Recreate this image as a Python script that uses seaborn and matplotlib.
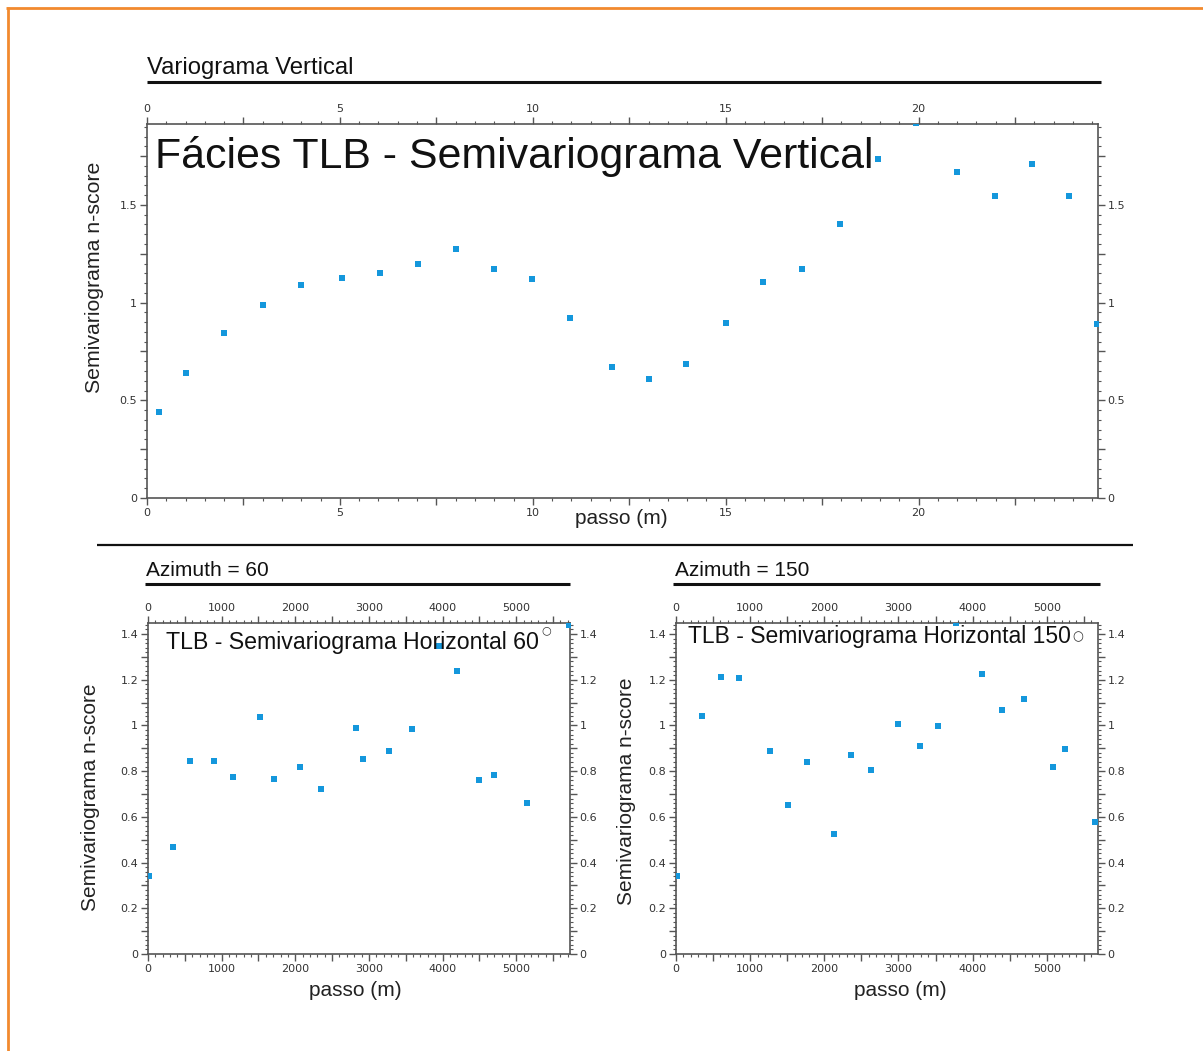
import numpy as np
import pandas as pd
import matplotlib
matplotlib.use("Agg")
import matplotlib.pyplot as plt
import seaborn as sns
from matplotlib.ticker import MultipleLocator, FuncFormatter
from matplotlib.lines import Line2D

# ---------------- data ----------------
vert_lag = [0.32, 1.0, 2.0, 3.0, 3.98, 5.05, 6.05, 7.02, 8.02, 9.0, 9.99, 10.96, 12.04,
            13.02, 13.98, 15.0, 15.97, 16.97, 17.96, 18.96, 19.93, 21.0, 21.97, 22.94,
            23.9, 24.62]
vert_gamma = [0.441, 0.642, 0.842, 0.986, 1.088, 1.125, 1.149, 1.196, 1.272, 1.174,
              1.120, 0.922, 0.672, 0.607, 0.686, 0.895, 1.105, 1.174, 1.401, 1.737,
              1.92, 1.667, 1.547, 1.711, 1.547, 0.890]

az60_lag = [15, 341, 569, 896, 1151, 1520, 1715, 2070, 2352, 2825, 2921, 3276, 3590,
            3945, 4199, 4495, 4695, 5150, 5720]
az60_gamma = [0.342, 0.469, 0.844, 0.844, 0.776, 1.036, 0.767, 0.818, 0.722, 0.990,
              0.855, 0.887, 0.985, 1.349, 1.236, 0.763, 0.785, 0.659, 1.44]

az150_lag = [15, 345, 602, 850, 1264, 1512, 1769, 2128, 2362, 2624, 2987, 3295, 3529,
             3778, 4127, 4393, 4697, 5087, 5239, 5650]
az150_gamma = [0.340, 1.039, 1.211, 1.206, 0.889, 0.650, 0.840, 0.527, 0.872, 0.804,
               1.007, 0.908, 0.999, 1.45, 1.225, 1.067, 1.116, 0.818, 0.898, 0.577]

header_vert = "Variograma Vertical"
header_60 = "Azimuth = 60"
header_150 = "Azimuth = 150"
title_vert = "Fácies TLB - Semivariograma Vertical"
title_60 = "TLB - Semivariograma Horizontal 60"
title_150 = "TLB - Semivariograma Horizontal 150"
xlabel_txt = "passo (m)"
ylabel_txt = "Semivariograma n-score"

# ---------------- style ----------------
sns.set_style("white")
plt.rcParams['font.family'] = ['Liberation Sans', 'DejaVu Sans']

W, H = 1203, 1051
fig = plt.figure(figsize=(W / 100, H / 100), dpi=100)
fig.patch.set_facecolor("white")

PT_COLOR = "#1497dc"


def px_rect(x0, y0, x1, y1):
    return [x0 / W, 1 - y1 / H, (x1 - x0) / W, (y1 - y0) / H]


def fx(x):
    return x / W


def fy(y):
    return 1 - y / H


def make_fmt(step):
    def f(v, p):
        r = v / step
        if abs(r - round(r)) < 1e-6:
            return f"{v:g}"
        return ""
    return FuncFormatter(f)


def style_axes(ax, xmaj, xmin, xlab, ymaj, ymin, ylab):
    ax.xaxis.set_major_locator(MultipleLocator(xmaj))
    ax.xaxis.set_minor_locator(MultipleLocator(xmin))
    ax.xaxis.set_major_formatter(make_fmt(xlab))
    ax.yaxis.set_major_locator(MultipleLocator(ymaj))
    ax.yaxis.set_minor_locator(MultipleLocator(ymin))
    ax.yaxis.set_major_formatter(make_fmt(ylab))
    ax.tick_params(which='both', direction='out', top=True, right=True, bottom=True, left=True,
                   labeltop=True, labelright=True, labelbottom=True, labelleft=True,
                   color='#555555', labelcolor='#333333', labelsize=8,
                   labelfontfamily='DejaVu Sans', pad=2)
    ax.tick_params(which='major', length=5, width=1)
    ax.tick_params(which='minor', length=2.5, width=0.8)
    for s in ax.spines.values():
        s.set_color('#555555')
        s.set_linewidth(1.2)
    ax.grid(False)


def scatter(ax, x, y):
    df = pd.DataFrame({"passo": x, "gamma": y})
    sns.scatterplot(data=df, x="passo", y="gamma", ax=ax, marker='s', s=21,
                    color=PT_COLOR, linewidth=0, clip_on=True, zorder=3)


# ---- top axes ----
ax1 = fig.add_axes(px_rect(147, 124, 1098, 498))
scatter(ax1, vert_lag, vert_gamma)
ax1.set_xlim(0, 24.65)
ax1.set_ylim(0, 1.914)
style_axes(ax1, 2.5, 0.5, 5, 0.25, 0.05, 0.5)
ax1.set_xlabel(xlabel_txt, fontsize=15, color='#222222')
ax1.set_ylabel(ylabel_txt, fontsize=15.3, color='#222222')
ax1.xaxis.set_label_coords((621 - 147) / 951, (498 - 519) / 374)
ax1.xaxis.label.set_va('center')
ax1.yaxis.set_label_coords((95 - 147) / 951, (498 - 277) / 374)
ax1.yaxis.label.set_va('center')
ax1.text(0.0084, 0.882, title_vert, transform=ax1.transAxes, fontsize=30.9,
         ha='left', va='baseline', color='#111111')

# ---- bottom-left ----
ax2 = fig.add_axes(px_rect(148, 623, 570, 954))
scatter(ax2, az60_lag, az60_gamma)
ax2.set_xlim(0, 5730)
ax2.set_ylim(0, 1.448)
style_axes(ax2, 500, 100, 1000, 0.1, 0.02, 0.2)
ax2.set_xlabel(xlabel_txt, fontsize=15, color='#222222')
ax2.set_ylabel(ylabel_txt, fontsize=15, color='#222222')
ax2.xaxis.set_label_coords((355 - 148) / 422, (954 - 990) / 331)
ax2.xaxis.label.set_va('center')
ax2.yaxis.set_label_coords((90 - 148) / 422, (954 - 797) / 331)
ax2.yaxis.label.set_va('center')
t60 = ax2.text((166 - 148) / 422, (954 - 649) / 331, title_60, transform=ax2.transAxes,
               fontsize=16.7, ha='left', va='baseline', color='#111111')
ax2.annotate('○', xy=(1, 1), xycoords=t60, xytext=(1.5, 4), textcoords='offset points',
             ha='left', va='top', fontsize=8, color='#333333',
             family=['DejaVu Sans'])

# ---- bottom-right ----
ax3 = fig.add_axes(px_rect(676, 623, 1098, 954))
scatter(ax3, az150_lag, az150_gamma)
ax3.set_xlim(0, 5690)
ax3.set_ylim(0, 1.448)
style_axes(ax3, 500, 100, 1000, 0.1, 0.02, 0.2)
ax3.set_xlabel(xlabel_txt, fontsize=15, color='#222222')
ax3.set_ylabel(ylabel_txt, fontsize=15, color='#222222')
ax3.xaxis.set_label_coords((900 - 676) / 422, (954 - 990) / 331)
ax3.xaxis.label.set_va('center')
ax3.yaxis.set_label_coords((627 - 676) / 422, (954 - 791) / 331)
ax3.yaxis.label.set_va('center')
t150 = ax3.text((688 - 676) / 422, (954 - 643) / 331, title_150, transform=ax3.transAxes,
                fontsize=16.5, ha='left', va='baseline', color='#111111')
ax3.annotate('○', xy=(1, 0), xycoords=t150, xytext=(1, 3.5), textcoords='offset points',
             ha='left', va='bottom', fontsize=9, color='#333333',
             family=['DejaVu Sans'])

# ---- headers & rules ----
fig.text(fx(147), fy(74), header_vert, fontsize=17.2, ha='left', va='baseline', color='#111111')
fig.text(fx(146), fy(576), header_60, fontsize=15, ha='left', va='baseline', color='#111111')
fig.text(fx(675), fy(576), header_150, fontsize=15, ha='left', va='baseline', color='#111111')

for (x0, x1, y, lw) in [(147, 1101, 82, 2.2), (145, 570, 584, 2.2), (673, 1100, 584, 2.2),
                        (97, 1133, 545, 1.6)]:
    fig.add_artist(Line2D([fx(x0), fx(x1)], [fy(y), fy(y)], transform=fig.transFigure,
                          color='#111111', lw=lw, solid_capstyle='butt'))

# orange frame (top & left)
ORANGE = "#f28a2e"
fig.add_artist(Line2D([fx(6), fx(W)], [fy(7.5), fy(7.5)], transform=fig.transFigure,
                      color=ORANGE, lw=2.0, solid_capstyle='butt'))
fig.add_artist(Line2D([fx(7.5), fx(7.5)], [fy(6.5), fy(H)], transform=fig.transFigure,
                      color=ORANGE, lw=2.0, solid_capstyle='butt'))

fig.savefig("out.png", dpi=100)
